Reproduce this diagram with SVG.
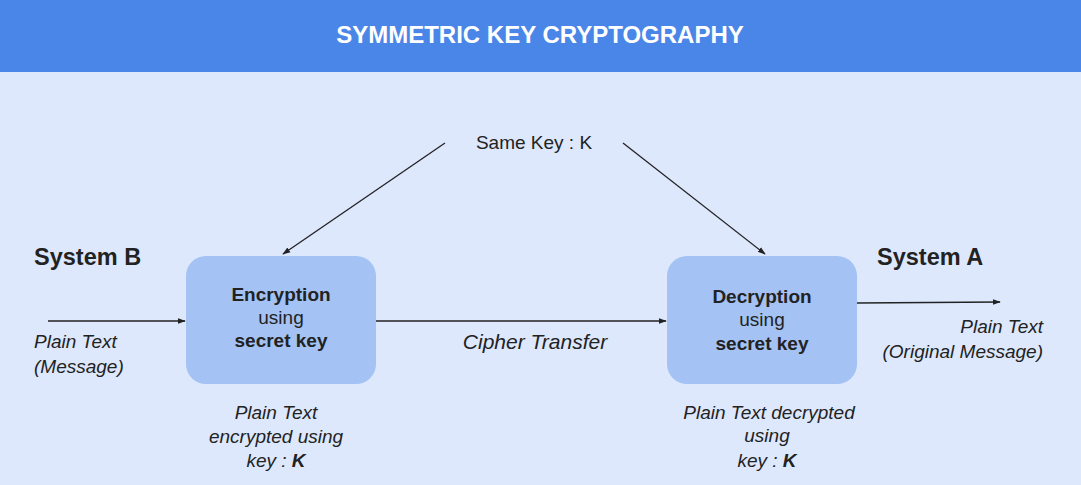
<svg xmlns="http://www.w3.org/2000/svg" width="1081" height="485" viewBox="0 0 1081 485">
<style>
text{font-family:"Liberation Sans",Arial,sans-serif;fill:#222}
.b{font-weight:bold}
.i{font-style:italic}
.n{font-size:19px}
.box{fill:#a4c2f4}
.c{stroke:#222;stroke-width:1.3;fill:none;marker-end:url(#ah)}
</style>
<defs>
<marker id="ah" viewBox="0 0 10 10" refX="9" refY="5" markerWidth="8" markerHeight="8" markerUnits="userSpaceOnUse" orient="auto">
<path d="M0,1.5 L10,5 L0,8.5 z" fill="#222"/>
</marker>
</defs>
<rect width="1081" height="485" fill="#dde8fd"/>
<g id="header">
<rect width="1081" height="72" fill="#4a86e8"/>
<text x="540" y="43" text-anchor="middle" class="b" font-size="24" style="fill:#fff">SYMMETRIC KEY CRYPTOGRAPHY</text>
</g>
<g id="connectors">
<line class="c" x1="445" y1="143" x2="283" y2="254"/>
<line class="c" x1="623" y1="143" x2="765" y2="254"/>
<line class="c" x1="48" y1="321" x2="185" y2="321"/>
<line class="c" x1="376" y1="321" x2="666" y2="321"/>
<line class="c" x1="857" y1="303" x2="1000" y2="302"/>
</g>
<g id="samekey">
<text x="534" y="149" text-anchor="middle" font-size="19">Same Key : K</text>
</g>
<g id="systemB">
<text x="34" y="265" class="b" font-size="23.5">System B</text>
<text x="34" y="348" class="i n">Plain Text</text>
<text x="34" y="373" class="i n">(Message)</text>
</g>
<g id="encryption">
<rect class="box" x="186" y="256" width="190" height="128" rx="20"/>
<text x="281" y="301" text-anchor="middle" class="b n">Encryption</text>
<text x="281" y="324" text-anchor="middle" class="n">using</text>
<text x="281" y="347" text-anchor="middle" class="b n">secret key</text>
<text x="276" y="419" text-anchor="middle" class="i n">Plain Text</text>
<text x="276" y="443" text-anchor="middle" class="i n">encrypted using</text>
<text x="276" y="467" text-anchor="middle" class="i n">key : <tspan class="b">K</tspan></text>
</g>
<g id="cipher">
<text x="535" y="349" text-anchor="middle" class="i" font-size="21">Cipher Transfer</text>
</g>
<g id="decryption">
<rect class="box" x="667" y="256" width="190" height="128" rx="20"/>
<text x="762" y="303" text-anchor="middle" class="b n">Decryption</text>
<text x="762" y="326" text-anchor="middle" class="n">using</text>
<text x="762" y="350" text-anchor="middle" class="b n">secret key</text>
<text x="769" y="419" text-anchor="middle" class="i n">Plain Text decrypted</text>
<text x="767" y="442" text-anchor="middle" class="i n">using</text>
<text x="767" y="467" text-anchor="middle" class="i n">key : <tspan class="b">K</tspan></text>
</g>
<g id="systemA">
<text x="877" y="265" class="b" font-size="23.5">System A</text>
<text x="1043" y="333" text-anchor="end" class="i n">Plain Text</text>
<text x="1043" y="358" text-anchor="end" class="i n">(Original Message)</text>
</g>
</svg>
